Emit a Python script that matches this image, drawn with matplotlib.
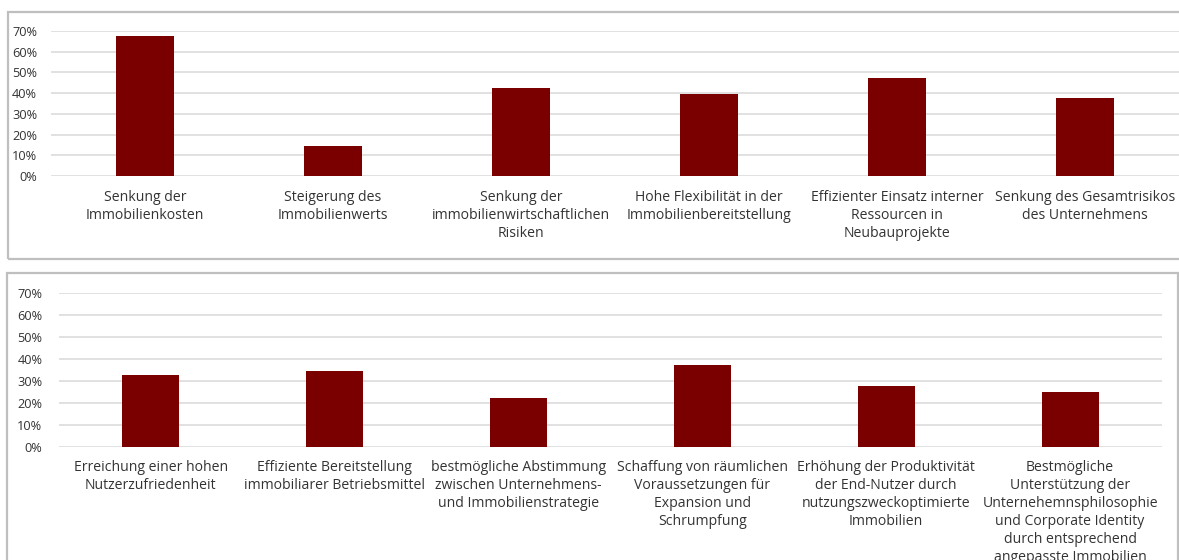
import matplotlib
matplotlib.use("Agg")
import matplotlib.pyplot as plt
from matplotlib.patches import Rectangle
from matplotlib.ticker import PercentFormatter

# values (share of respondents)
top_labels = [
    "Senkung der\nImmobilienkosten",
    "Steigerung des\nImmobilienwerts",
    "Senkung der\nimmobilienwirtschaftlichen\nRisiken",
    "Hohe Flexibilität in der\nImmobilienbereitstellung",
    "Effizienter Einsatz interner\nRessourcen in\nNeubauprojekte",
    "Senkung des Gesamtrisikos\ndes Unternehmens",
]
top_values = [0.675, 0.145, 0.425, 0.397, 0.475, 0.375]

bottom_labels = [
    "Erreichung einer hohen\nNutzerzufriedenheit",
    "Effiziente Bereitstellung\nimmobiliarer Betriebsmittel",
    "bestmögliche Abstimmung\nzwischen Unternehmens-\nund Immobilienstrategie",
    "Schaffung von räumlichen\nVoraussetzungen für\nExpansion und\nSchrumpfung",
    "Erhöhung der Produktivität\nder End-Nutzer durch\nnutzungszweckoptimierte\nImmobilien",
    "Bestmögliche\nUnterstützung der\nUnternehemnsphilosophie\nund Corporate Identity\ndurch entsprechend\nangepasste Immobilien",
]
bottom_values = [0.329, 0.347, 0.226, 0.374, 0.277, 0.251]

yticks = [0, 0.1, 0.2, 0.3, 0.4, 0.5, 0.6, 0.7]

BAR = "#7a0000"
GRID = "#d9d9d9"
BORDER = "#bfbfbf"

plt.rcParams["font.family"] = ["Open Sans", "DejaVu Sans"]

W, H = 1179, 560
fig = plt.figure(figsize=(W / 100, H / 100), dpi=100)


def px_axes(x0, x1, y_top, y_bot):
    # pixel box -> figure fraction
    return fig.add_axes([x0 / W, (H - y_bot) / H, (x1 - x0) / W, (y_bot - y_top) / H])


def panel(ax, labels, values, pad_y, pad_x):
    x = range(len(values))
    ax.bar(x, values, width=0.31, color=BAR, zorder=3)
    ax.set_xlim(-0.5, len(values) - 0.5)
    ax.set_ylim(0, 0.7)
    ax.set_yticks(yticks)
    ax.yaxis.set_major_formatter(PercentFormatter(1.0, decimals=0))
    ax.set_xticks(list(x))
    ax.set_xticklabels(labels, fontsize=10.1, color="#333333", linespacing=1.28, va="top")
    ax.tick_params(axis="x", length=0, pad=pad_x)
    ax.tick_params(axis="y", length=0, pad=pad_y, labelsize=9.2, labelcolor="#333333")
    ax.grid(axis="y", color=GRID, linewidth=1.1, zorder=0)
    for s in ax.spines.values():
        s.set_visible(False)
    ax.set_facecolor("none")


# panel frames
fig.patches.append(Rectangle((8 / W, (H - 259) / H), 1.0, 247 / H, transform=fig.transFigure,
                             fill=False, edgecolor=BORDER, linewidth=1.6))
fig.patches.append(Rectangle((7 / W, -0.05), (1178 - 7) / W, (H - 272.5) / H + 0.05,
                             transform=fig.transFigure, fill=False, edgecolor=BORDER, linewidth=1.6))

ax1 = px_axes(51, 1179, 31, 176)
panel(ax1, top_labels, top_values, pad_y=10, pad_x=10)

ax2 = px_axes(59, 1162, 293.3, 447.3)
panel(ax2, bottom_labels, bottom_values, pad_y=12, pad_x=9)

fig.savefig("out.png", dpi=100)
